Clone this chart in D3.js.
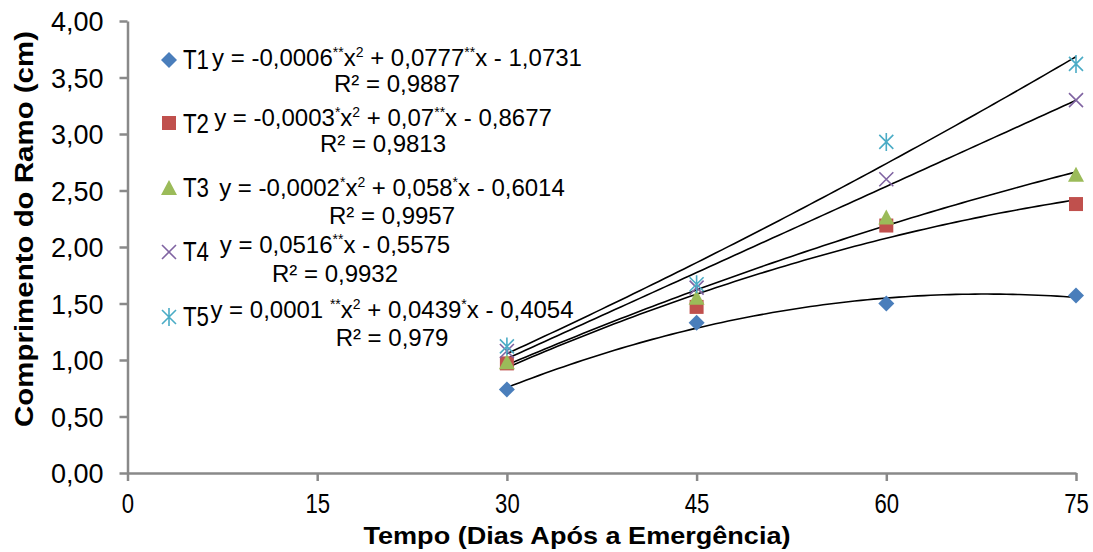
<!DOCTYPE html>
<html>
<head>
<meta charset="UTF-8">
<title>Comprimento do Ramo</title>
<script src="https://d3js.org/d3.v7.min.js"></script>
<style>
  html, body { margin: 0; padding: 0; background: #fff; }
  svg text { font-family: "Liberation Sans", Arial, sans-serif; fill: #000; }
  .axis path, .axis line { stroke: #898989; stroke-width: 2.5px; }
  .axis text { font-size: 27px; }
  .title { font-weight: bold; }
</style>
</head>
<body>
<svg id="chart" width="1093" height="552"></svg>
<script>
// dias após a emergência
const days = [30, 45, 60, 75];
const t1 = [0.74, 1.33, 1.50, 1.57];
const t2 = [0.97, 1.47, 2.19, 2.38];
const t3 = [0.98, 1.55, 2.26, 2.64];
const t4 = [1.08, 1.64, 2.60, 3.30];
const t5 = [1.12, 1.67, 2.93, 3.62];
const names = ['T1', 'T2', 'T3', 'T4', 'T5'];
const colors = ['#4a7ebb', '#c0504d', '#9bbb59', '#8064a2', '#4bacc6'];
const degrees = [2, 2, 2, 1, 2];
const yTicks = [0, 0.5, 1, 1.5, 2, 2.5, 3, 3.5, 4];
const xTicks = [0, 15, 30, 45, 60, 75];
// trendline labels, [text, superscript?]
const eqs = [
  [['y = -0,0006', 0], ['**', 1], ['x', 0], ['2', 1], [' + 0,0777', 0], ['**', 1], ['x - 1,0731', 0]],
  [['y = -0,0003', 0], ['*', 1], ['x', 0], ['2', 1], [' + 0,07', 0], ['**', 1], ['x - 0,8677', 0]],
  [['y = -0,0002', 0], ['*', 1], ['x', 0], ['2', 1], [' + 0,058', 0], ['*', 1], ['x - 0,6014', 0]],
  [['y = 0,0516', 0], ['**', 1], ['x - 0,5575', 0]],
  [['y = 0,0001 ', 0], ['**', 1], ['x', 0], ['2', 1], [' + 0,0439', 0], ['*', 1], ['x - 0,4054', 0]]
];
const r2 = ['R² = 0,9887', 'R² = 0,9813', 'R² = 0,9957', 'R² = 0,9932', 'R² = 0,979'];

const series = [t1, t2, t3, t4, t5];

const svg = d3.select('#chart');
const x = d3.scaleLinear().domain([0, 75]).range([127.5, 1076]);
const y = d3.scaleLinear().domain([0, 4]).range([473, 21]);

const locale = d3.formatLocale({decimal: ',', thousands: '.', grouping: [3], currency: ['', '']});
const fmt = locale.format('.2f');

const gy = svg.append('g').attr('class', 'axis')
  .attr('transform', `translate(${x(0)},0)`)
  .call(d3.axisLeft(y).tickValues(yTicks).tickFormat(fmt).tickSize(8).tickSizeOuter(0).tickPadding(16));
gy.selectAll('text').attr('dy', '0.36em');

const gx = svg.append('g').attr('class', 'axis')
  .attr('transform', `translate(0,${y(0)})`)
  .call(d3.axisBottom(x).tickValues(xTicks).tickSize(8).tickSizeOuter(0).tickPadding(13));
gx.selectAll('text').attr('transform', 'scale(0.82,1)');

// least squares polynomial fit (like Excel trendline)
function polyfit(xs, ys, deg) {
  const n = deg + 1;
  const A = [];
  for (let i = 0; i < n; i++) {
    A.push([]);
    for (let j = 0; j < n; j++) A[i].push(d3.sum(xs, v => Math.pow(v, i + j)));
    A[i].push(d3.sum(xs, (v, k) => Math.pow(v, i) * ys[k]));
  }
  for (let i = 0; i < n; i++) {
    for (let r = i + 1; r < n; r++) {
      const f = A[r][i] / A[i][i];
      for (let c = i; c <= n; c++) A[r][c] -= f * A[i][c];
    }
  }
  const coef = new Array(n).fill(0);
  for (let i = n - 1; i >= 0; i--) {
    let s = A[i][n];
    for (let j = i + 1; j < n; j++) s -= A[i][j] * coef[j];
    coef[i] = s / A[i][i];
  }
  return v => coef.reduce((acc, c, i) => acc + c * Math.pow(v, i), 0);
}

const line = d3.line().x(d => x(d[0])).y(d => y(d[1]));
series.forEach((s, i) => {
  const f = polyfit(days, s, degrees[i]);
  const pts = d3.range(30, 75.01, 0.5).map(v => [v, f(v)]);
  svg.append('path')
    .attr('d', line(pts))
    .attr('fill', 'none')
    .attr('stroke', '#000')
    .attr('stroke-width', 1.6);
});

function marker(g, i, cx, cy) {
  const c = colors[i];
  if (i === 0) {
    g.append('path').attr('d', 'M0,-8L8,0L0,8L-8,0Z').attr('transform', `translate(${cx},${cy})`).attr('fill', c);
  } else if (i === 1) {
    g.append('rect').attr('x', cx - 7).attr('y', cy - 7).attr('width', 14).attr('height', 14).attr('fill', c);
  } else if (i === 2) {
    g.append('path').attr('d', 'M0,-8L8,7L-8,7Z').attr('transform', `translate(${cx},${cy})`).attr('fill', c);
  } else if (i === 3) {
    g.append('path').attr('d', 'M-7,-7L7,7M-7,7L7,-7').attr('transform', `translate(${cx},${cy})`)
      .attr('stroke', c).attr('stroke-width', 1.6).attr('fill', 'none');
  } else {
    g.append('path').attr('d', 'M-7,-7L7,7M-7,7L7,-7M0,-9L0,9').attr('transform', `translate(${cx},${cy})`)
      .attr('stroke', c).attr('stroke-width', 1.6).attr('fill', 'none');
  }
}

const pointsG = svg.append('g');
series.forEach((s, i) => {
  s.forEach((v, k) => marker(pointsG, i, x(days[k]), y(v)));
});

// legend
const legRows = [
  {my: 60, ty: 69, ey: 66, ecx: 397, ry: 92},
  {my: 123, ty: 133, ey: 126, ecx: 383, ry: 152},
  {my: 188, ty: 197, ey: 196, ecx: 392, ry: 224},
  {my: 252, ty: 261, ey: 253, ecx: 335, ry: 282},
  {my: 317, ty: 326, ey: 318, ecx: 392, ry: 346}
];
const leg = svg.append('g');
legRows.forEach((r, i) => {
  marker(leg, i, 169, r.my);
  leg.append('text').attr('x', 183).attr('y', r.ty)
    .attr('font-size', 27).attr('textLength', 26).attr('lengthAdjust', 'spacingAndGlyphs')
    .text(names[i]);
  const t = leg.append('text').attr('x', r.ecx).attr('y', r.ey)
    .attr('text-anchor', 'middle').attr('font-size', 24);
  let up = false;
  eqs[i].forEach(([txt, sup]) => {
    const ts = t.append('tspan').text(txt);
    if (sup && !up) { ts.attr('dy', -9).attr('font-size', 14); up = true; }
    else if (sup) { ts.attr('font-size', 14); }
    else if (up) { ts.attr('dy', 9); up = false; }
  });
  leg.append('text').attr('x', r.ecx).attr('y', r.ry)
    .attr('text-anchor', 'middle').attr('font-size', 24).text(r2[i]);
});

// axis titles
svg.append('text').attr('class', 'title')
  .attr('x', 577).attr('y', 544).attr('text-anchor', 'middle')
  .attr('font-size', 24).attr('textLength', 427).attr('lengthAdjust', 'spacingAndGlyphs')
  .text('Tempo (Dias Após a Emergência)');
svg.append('text').attr('class', 'title')
  .attr('transform', 'translate(33,229) rotate(-90)')
  .attr('text-anchor', 'middle').attr('font-size', 25)
  .attr('textLength', 396).attr('lengthAdjust', 'spacingAndGlyphs')
  .text('Comprimento do Ramo (cm)');
</script>
</body>
</html>
